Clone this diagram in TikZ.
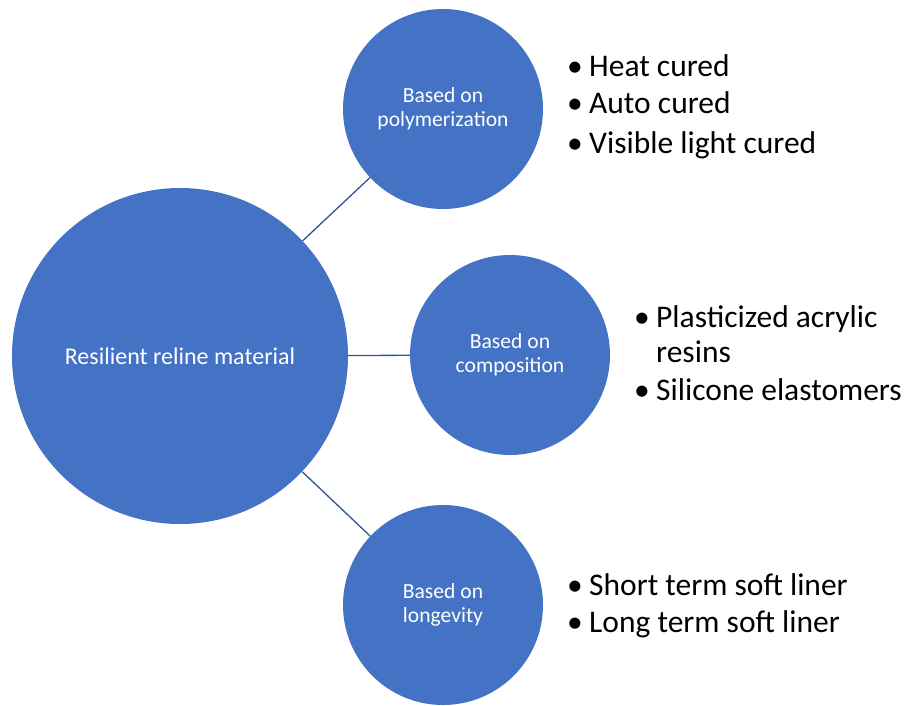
\documentclass[tikz,border=0pt]{standalone}
\usepackage{fontspec}
\setmainfont{Carlito}
\definecolor{accent}{HTML}{4472C4}
\definecolor{linkblue}{HTML}{2F5597}
\tikzset{
  hub/.style={circle, fill=accent, draw=none, text=white, align=center, inner sep=0pt,
    font=\fontsize{21.6}{24}\selectfont},
  link/.style={draw=linkblue, line width=1.3pt},
  item/.style={anchor=base west, inner sep=0pt, text=black, font=\fontsize{31.5}{38}\selectfont},
}
\newcommand{\bul}{\makebox[22pt][l]{\textbullet}}
\begin{document}
\begin{tikzpicture}[x=1pt, y=-1pt]
  \useasboundingbox (0,0) rectangle (912,705);
  % circles
  \node[hub, minimum size=336pt, font=\fontsize{24}{28}\selectfont] (root) at (180,356) {Resilient reline material};
  \node[hub, minimum size=200pt] (poly) at (443,109) {Based on\\polymerization};
  \node[hub, minimum size=200pt] (comp) at (510,355) {Based on\\composition};
  \node[hub, minimum size=200pt] (long) at (443,605) {Based on\\longevity};
  % connectors
  \draw[link] (root) -- (poly);
  \draw[link] (root) -- (comp);
  \draw[link] (root) -- (long);
  % bullet lists
  \node[item] (p1) at (567,76) {\bul Heat cured};
  \node[item] (p2) at (567,113) {\bul Auto cured};
  \node[item] (p3) at (567,153) {\bul Visible light cured};
  \node[item] (c1) at (634,327) {\bul Plasticized acrylic};
  \node[item] (c2) at (656,362) {resins};
  \node[item] (c3) at (634,400) {\bul Silicone elastomers};
  \node[item] (l1) at (567,595) {\bul Short term soft liner};
  \node[item] (l2) at (567,632) {\bul Long term soft liner};
\end{tikzpicture}
\end{document}
